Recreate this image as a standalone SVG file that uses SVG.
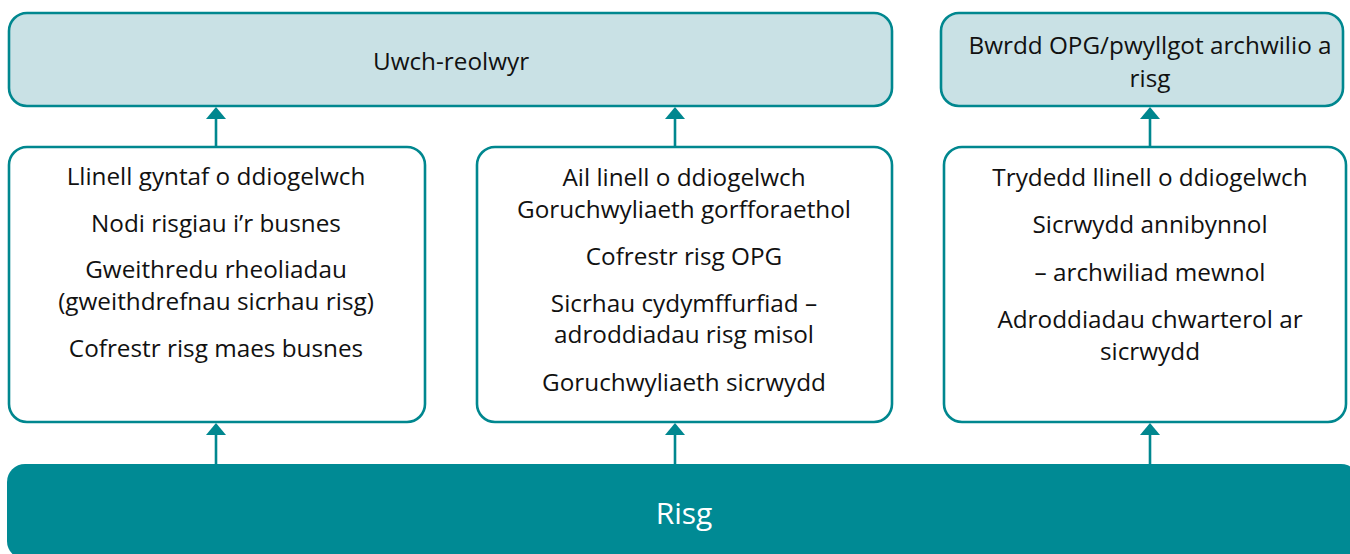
<svg xmlns="http://www.w3.org/2000/svg" width="1350" height="554" viewBox="0 0 1350 554">
<defs>
<style>
.top{fill:#c9e1e5;stroke:#00878f;stroke-width:2.6}
.mid{fill:#ffffff;stroke:#00878f;stroke-width:2.6}
.bar{fill:#008a94}
.t{font-family:"Open Sans","Liberation Sans",sans-serif;font-size:24.3px;fill:#111111;text-anchor:middle}
.tb{font-family:"Open Sans","Liberation Sans",sans-serif;font-size:30px;fill:#ffffff;text-anchor:middle}
.conn line{stroke:#00878f;stroke-width:2.6}
.conn polygon{fill:#00878f}
</style>
</defs>
<rect width="1350" height="554" fill="#ffffff"/>
<g id="uwch-reolwyr">
<rect class="top" x="9" y="13" width="883" height="93" rx="18"/>
<text class="t" x="451" y="70">Uwch-reolwyr</text>
</g>
<g id="bwrdd">
<rect class="top" x="941" y="13" width="402" height="93" rx="18"/>
<text class="t" x="1150" y="54">Bwrdd OPG/pwyllgot archwilio a</text>
<text class="t" x="1150" y="87">risg</text>
</g>
<g id="llinell1">
<rect class="mid" x="9" y="147" width="416" height="275" rx="18"/>
<text class="t" x="216" y="185">Llinell gyntaf o ddiogelwch</text>
<text class="t" x="216" y="232">Nodi risgiau i’r busnes</text>
<text class="t" x="216" y="278">Gweithredu rheoliadau</text>
<text class="t" x="216" y="310">(gweithdrefnau sicrhau risg)</text>
<text class="t" x="216" y="357">Cofrestr risg maes busnes</text>
</g>
<g id="llinell2">
<rect class="mid" x="477" y="147" width="415" height="275" rx="18"/>
<text class="t" x="684" y="186">Ail linell o ddiogelwch</text>
<text class="t" x="684" y="218">Goruchwyliaeth gorfforaethol</text>
<text class="t" x="684" y="265">Cofrestr risg OPG</text>
<text class="t" x="684" y="312">Sicrhau cydymffurfiad –</text>
<text class="t" x="684" y="343">adroddiadau risg misol</text>
<text class="t" x="684" y="391">Goruchwyliaeth sicrwydd</text>
</g>
<g id="llinell3">
<rect class="mid" x="944" y="147" width="402" height="275" rx="18"/>
<text class="t" x="1150" y="186">Trydedd llinell o ddiogelwch</text>
<text class="t" x="1150" y="233">Sicrwydd annibynnol</text>
<text class="t" x="1150" y="281">– archwiliad mewnol</text>
<text class="t" x="1150" y="328">Adroddiadau chwarterol ar</text>
<text class="t" x="1150" y="360">sicrwydd</text>
</g>
<g id="risg">
<rect class="bar" x="7" y="464" width="1352" height="95" rx="18"/>
<text class="tb" x="684" y="524">Risg</text>
</g>
<g id="connectors" class="conn">
<line x1="216" y1="147" x2="216" y2="117"/>
<polygon points="216,107 226,119 206,119"/>
<line x1="675" y1="147" x2="675" y2="117"/>
<polygon points="675,107 685,119 665,119"/>
<line x1="1150" y1="147" x2="1150" y2="117"/>
<polygon points="1150,107 1160,119 1140,119"/>
<line x1="216" y1="464" x2="216" y2="433"/>
<polygon points="216,423 226,435 206,435"/>
<line x1="675" y1="464" x2="675" y2="433"/>
<polygon points="675,423 685,435 665,435"/>
<line x1="1150" y1="464" x2="1150" y2="433"/>
<polygon points="1150,423 1160,435 1140,435"/>
</g>
</svg>
